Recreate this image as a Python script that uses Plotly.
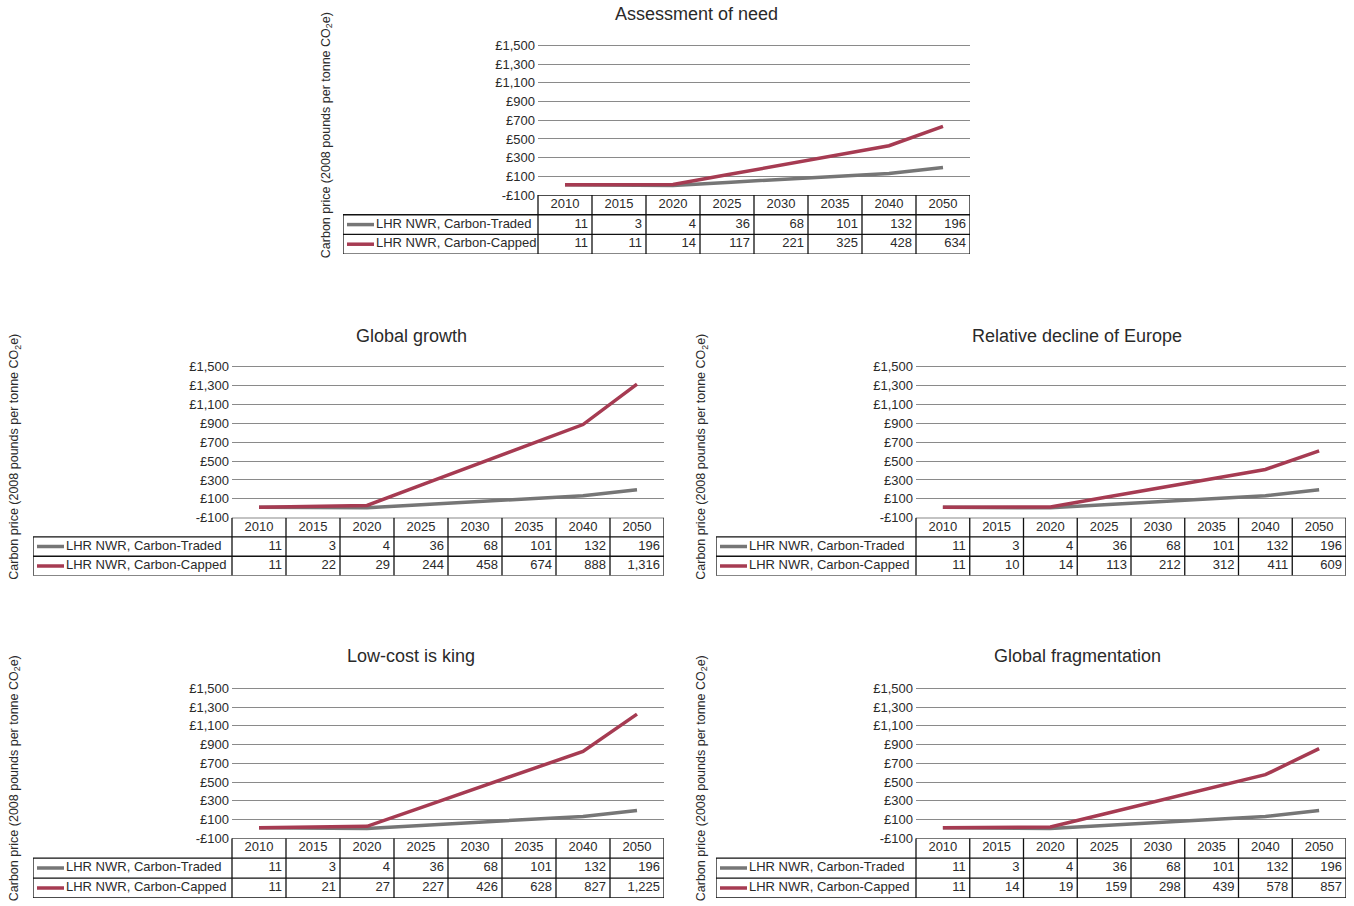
import plotly.graph_objects as go

# ---------------- data ----------------
years = ["2010", "2015", "2020", "2025", "2030", "2035", "2040", "2050"]
series_names = ["LHR NWR, Carbon-Traded", "LHR NWR, Carbon-Capped"]
traded = [11, 3, 4, 36, 68, 101, 132, 196]
capped_assessment = [11, 11, 14, 117, 221, 325, 428, 634]
capped_global_growth = [11, 22, 29, 244, 458, 674, 888, 1316]
capped_relative_decline = [11, 10, 14, 113, 212, 312, 411, 609]
capped_low_cost = [11, 21, 27, 227, 426, 628, 827, 1225]
capped_fragmentation = [11, 14, 19, 159, 298, 439, 578, 857]
titles = ["Assessment of need", "Global growth", "Relative decline of Europe",
          "Low-cost is king", "Global fragmentation"]
y_ticks = [-100, 100, 300, 500, 700, 900, 1100, 1300, 1500]
y_title = "Carbon price (2008 pounds per tonne CO<sub>2</sub>e)"

capped_all = [capped_assessment, capped_global_growth, capped_relative_decline,
              capped_low_cost, capped_fragmentation]

# ---------------- layout geometry (pixels) ----------------
W, H = 1354, 906
V_SCALE, V_OFF = 0.986, 4.6      # compensation for vertical mapping seen in capture
Y_MIN, Y_MAX, Y_PAD = -100, 1500, 15
# plotL, plotR, legendL, gridTop, tableTop, tableBottom, titleX, titleY, ytitleX, ytitleY
panels = [
    (538, 970, 343, 44, 194, 253, 696, 13, 327, 134),
    (232, 664, 33, 366, 517, 575, 411, 335, 15, 456),
    (916, 1346, 716, 366, 517, 575, 1077, 335, 702, 456),
    (232, 664, 33, 688, 838, 898, 411, 656, 15, 778),
    (916, 1346, 716, 688, 838, 898, 1077, 656, 702, 778),
]

GRAY = "#767676"
RED = "#A63B52"
FONT = "Liberation Sans"
TXT = "#2a2a2a"

def clamp(v):
    return min(1.0, max(0.0, v))

def px(x):
    return clamp(x / W)

def py(y):
    return clamp(1 - ((y - V_OFF) / V_SCALE) / H)

fig = go.Figure()
layout = dict(
    width=W, height=H, margin=dict(l=0, r=0, t=0, b=0),
    paper_bgcolor="white", plot_bgcolor="white", showlegend=False,
    font=dict(family=FONT, color=TXT),
)
shapes = []
annotations = []

for k, (pL, pR, lL, gT, tT, tB, tx, ty, yx, yy_c) in enumerate(panels):
    main_n = 2 * k + 1
    tab_n = 2 * k + 2
    mx = "x" if main_n == 1 else f"x{main_n}"
    my = "y" if main_n == 1 else f"y{main_n}"
    tx_ = f"x{tab_n}"
    ty_ = f"y{tab_n}"
    mkx = "xaxis" if main_n == 1 else f"xaxis{main_n}"
    mky = "yaxis" if main_n == 1 else f"yaxis{main_n}"

    n = len(years)
    colw = (pR - pL) / n
    legw = (pL - lL) / colw
    tab_left = -0.5 - legw
    ppu = (tT - gT) / (Y_MAX - Y_MIN)
    top_px = gT - Y_PAD * ppu

    # main chart axes
    layout[mkx] = dict(domain=[px(pL), px(pR)], anchor=my, type="category",
                       range=[-0.5, n - 0.5], showticklabels=False,
                       showgrid=False, zeroline=False, showline=False, fixedrange=True)
    layout[mky] = dict(domain=[py(tT), py(top_px)], anchor=mx, range=[Y_MIN, Y_MAX + Y_PAD],
                       tickvals=y_ticks,
                       ticktext=[(f"£{v:,}" if v >= 0 else f"-£{abs(v):,}") for v in y_ticks],
                       showgrid=True, gridcolor="#8a8a8a", gridwidth=1,
                       zeroline=False, showline=False, ticks="", ticklabelstandoff=2,
                       tickfont=dict(size=13, color=TXT, family=FONT), fixedrange=True)
    # table axes
    layout[f"xaxis{tab_n}"] = dict(domain=[px(lL), px(pR)], anchor=ty_,
                                   range=[tab_left, n - 0.5], visible=False, fixedrange=True)
    layout[f"yaxis{tab_n}"] = dict(domain=[py(tB), py(tT)], anchor=tx_,
                                   range=[0, 3], visible=False, fixedrange=True)

    # lines
    fig.add_trace(go.Scatter(x=years, y=traded, mode="lines", xaxis=mx, yaxis=my,
                             line=dict(color=GRAY, width=3.5), hoverinfo="skip"))
    fig.add_trace(go.Scatter(x=years, y=capped_all[k], mode="lines", xaxis=mx, yaxis=my,
                             line=dict(color=RED, width=3.5), hoverinfo="skip"))

    # table: header years
    idx = list(range(n))
    fig.add_trace(go.Scatter(x=idx, y=[2.5] * n, mode="text", text=years,
                             textposition="middle center", xaxis=tx_, yaxis=ty_,
                             textfont=dict(size=13, color=TXT, family=FONT), hoverinfo="skip"))
    # table: values
    pad = 4 / colw
    for row_y, vals in [(1.5, traded), (0.5, capped_all[k])]:
        fig.add_trace(go.Scatter(x=[i + 0.5 - pad for i in idx], y=[row_y] * n, mode="text",
                                 text=[f"{v:,}" for v in vals], textposition="middle left",
                                 xaxis=tx_, yaxis=ty_,
                                 textfont=dict(size=13, color=TXT, family=FONT),
                                 hoverinfo="skip"))
    # legend column
    s0 = tab_left + 4 / colw
    s1 = tab_left + 31 / colw
    t0 = tab_left + 33 / colw
    for row_y, name, col in [(1.5, series_names[0], GRAY), (0.5, series_names[1], RED)]:
        fig.add_trace(go.Scatter(x=[s0, s1], y=[row_y, row_y], mode="lines",
                                 line=dict(color=col, width=3.5), xaxis=tx_, yaxis=ty_,
                                 hoverinfo="skip"))
        fig.add_trace(go.Scatter(x=[t0], y=[row_y], mode="text", text=[name],
                                 textposition="middle right", xaxis=tx_, yaxis=ty_,
                                 textfont=dict(size=13, color=TXT, family=FONT),
                                 hoverinfo="skip"))

    # table borders
    bl = dict(color="#111111", width=1.3)
    shapes.append(dict(type="line", xref=tx_, yref=ty_, x0=-0.5, x1=n - 0.5, y0=3, y1=3, line=bl))
    for yy in [2, 1, 0]:
        shapes.append(dict(type="line", xref=tx_, yref=ty_, x0=tab_left, x1=n - 0.5,
                           y0=yy, y1=yy, line=bl))
    for i in range(n + 1):
        shapes.append(dict(type="line", xref=tx_, yref=ty_, x0=i - 0.5, x1=i - 0.5,
                           y0=0, y1=3, line=bl))
    shapes.append(dict(type="line", xref=tx_, yref=ty_, x0=tab_left, x1=tab_left,
                       y0=0, y1=2, line=bl))

    # titles
    annotations.append(dict(text=titles[k], x=px(tx), y=py(ty), xref="paper", yref="paper",
                            xanchor="center", yanchor="middle", showarrow=False,
                            font=dict(size=18, color=TXT, family=FONT)))
    annotations.append(dict(text=y_title, x=px(yx), y=py(yy_c),
                            xref="paper", yref="paper", textangle=-90,
                            xanchor="center", yanchor="middle", showarrow=False,
                            font=dict(size=12.5, color=TXT, family=FONT)))

layout["shapes"] = shapes
layout["annotations"] = annotations
fig.update_layout(**layout)
fig.write_html(
    "out.html",
    config={"displayModeBar": False},
    post_script="document.body.style.margin='0';document.body.style.overflow='hidden';"
                "document.documentElement.style.overflow='hidden';",
)
